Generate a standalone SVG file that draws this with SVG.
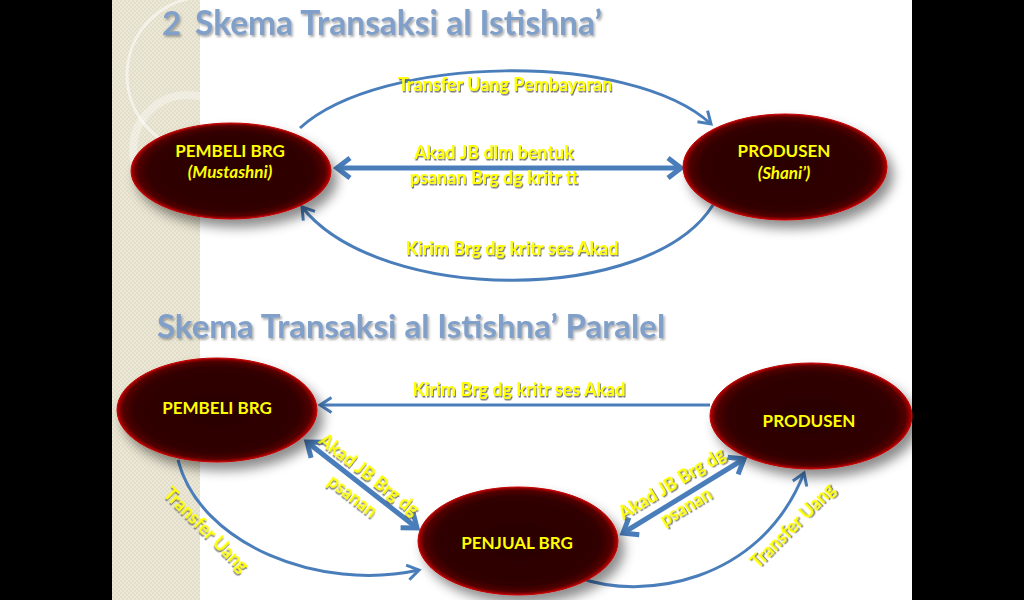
<svg xmlns="http://www.w3.org/2000/svg" width="1024" height="600" viewBox="0 0 1024 600">
<defs>
<style>
.title{font-family:Lato,"Open Sans","Liberation Sans",sans-serif;font-weight:bold;fill:#809fc9;filter:url(#tsh)}
.lbl{font-family:Lato,"Open Sans","Liberation Sans",sans-serif;font-weight:bold;font-size:18px;fill:#ffff00;filter:url(#ysh)}
.ntxt{font-family:Lato,"Open Sans","Liberation Sans",sans-serif;font-weight:bold;font-size:17px;fill:#ffff00;text-anchor:middle}
.node{fill:url(#nodeGrad);stroke:#c00000;stroke-width:1;filter:url(#nsh)}
.con{fill:none;stroke:#4a7ebb;stroke-width:3}
.thick{fill:none;stroke:#4a7ebb;stroke-width:5}
</style>
<radialGradient id="nodeGrad" cx="50%" cy="50%" r="50%">
<stop offset="0" stop-color="#2a0000"/>
<stop offset="0.82" stop-color="#300000"/>
<stop offset="0.94" stop-color="#520000"/>
<stop offset="1" stop-color="#b80000"/>
</radialGradient>
<filter id="nsh" x="-20%" y="-20%" width="150%" height="160%">
<feDropShadow dx="6" dy="8" stdDeviation="6" flood-color="#000" flood-opacity="0.45"/>
</filter>
<filter id="ysh" x="-10%" y="-30%" width="120%" height="170%">
<feDropShadow dx="1" dy="1.5" stdDeviation="0.6" flood-color="#555" flood-opacity="0.8"/>
</filter>
<filter id="tsh" x="-5%" y="-20%" width="110%" height="150%">
<feDropShadow dx="1.5" dy="2" stdDeviation="1" flood-color="#555" flood-opacity="0.5"/>
</filter>
<pattern id="chk" width="4" height="4" patternUnits="userSpaceOnUse">
<rect width="4" height="4" fill="#ece8d8"/>
<rect width="2" height="2" fill="#e3dec9"/>
<rect x="2" y="2" width="2" height="2" fill="#e3dec9"/>
</pattern>
<clipPath id="strip"><rect x="112" y="0" width="110" height="600"/></clipPath>
<marker id="ah" viewBox="0 0 14 18" refX="12.5" refY="9" markerWidth="14" markerHeight="18" markerUnits="userSpaceOnUse" orient="auto-start-reverse" overflow="visible">
<path d="M1,1.5 L12.5,9 L1,16.5" fill="none" stroke="#4a7ebb" stroke-width="3"/>
</marker>
<marker id="ahT" viewBox="0 0 18 24" refX="15" refY="12" markerWidth="18" markerHeight="24" markerUnits="userSpaceOnUse" orient="auto-start-reverse" overflow="visible">
<path d="M2,2 L15,12 L2,22" fill="none" stroke="#4a7ebb" stroke-width="5"/>
</marker>
</defs>

<rect x="0" y="0" width="1024" height="600" fill="#000"/>
<rect x="112" y="0" width="800" height="600" fill="#ffffff"/>
<rect x="112" y="0" width="88" height="600" fill="url(#chk)"/>
<g clip-path="url(#strip)" fill="none" stroke="#ffffff" stroke-opacity="0.5">
<circle cx="205" cy="75" r="78" stroke-width="3"/>
<circle cx="188" cy="150" r="55" stroke-width="8" stroke-opacity="0.35"/>
</g>

<text class="title" x="162" y="35" font-size="33">2</text>
<text class="title" x="195" y="35" font-size="33.5">Skema Transaksi al Istishna’</text>
<text class="title" x="157" y="338" font-size="33">Skema Transaksi al Istishna’ Paralel</text>

<g id="connectors">
<path class="con" d="M300,128 C380,55 630,50 711,124" marker-end="url(#ah)"/>
<path class="thick" d="M337,168 L681,168" marker-start="url(#ahT)" marker-end="url(#ahT)"/>
<path class="con" d="M713,205 C650,305 380,305 302,207" marker-end="url(#ah)"/>
<path class="con" d="M710,405 L320,405" stroke-width="2.5" marker-end="url(#ah)"/>
<path class="thick" d="M307,442 L417,528" marker-start="url(#ahT)" marker-end="url(#ahT)"/>
<path class="thick" d="M623,533 L744,459" marker-start="url(#ahT)" marker-end="url(#ahT)"/>
<path class="con" d="M178,460 C200,545 320,592 419,570" marker-end="url(#ah)"/>
<path class="con" d="M580,578 C640,600 760,585 804,473" marker-end="url(#ah)"/>
</g>

<g id="labels">
<text class="lbl" x="505" y="91" text-anchor="middle">Transfer Uang Pembayaran</text>
<text class="lbl" x="494" y="159" text-anchor="middle">Akad JB dlm bentuk</text>
<text class="lbl" x="494" y="184" text-anchor="middle">psanan Brg dg kritr tt</text>
<text class="lbl" x="512" y="255" text-anchor="middle">Kirim Brg dg kritr ses Akad</text>
<text class="lbl" x="519" y="396" text-anchor="middle">Kirim Brg dg kritr ses Akad</text>
<g transform="translate(369,475) rotate(38)">
<text class="lbl" x="0" y="6" text-anchor="middle">Akad JB Brg dg</text>
<text class="lbl" x="0" y="33" text-anchor="middle">psanan</text>
</g>
<g transform="translate(672,484) rotate(-31)">
<text class="lbl" x="0" y="6" text-anchor="middle">Akad JB Brg dg</text>
<text class="lbl" x="0" y="33" text-anchor="middle">psanan</text>
</g>
<text class="lbl" transform="translate(206,530) rotate(45)" x="0" y="6" text-anchor="middle">Transfer Uang</text>
<text class="lbl" transform="translate(793,526) rotate(-45)" x="0" y="6" text-anchor="middle">Transfer Uang</text>
</g>

<g id="pembeli1">
<ellipse class="node" cx="231" cy="171" rx="100" ry="48"/>
<text class="ntxt" x="230" y="157">PEMBELI BRG</text>
<text class="ntxt" x="230" y="178" font-style="italic">(Mustashni)</text>
</g>
<g id="produsen1">
<ellipse class="node" cx="785" cy="167" rx="102" ry="53"/>
<text class="ntxt" x="784" y="157">PRODUSEN</text>
<text class="ntxt" x="784" y="179" font-style="italic">(Shani’)</text>
</g>
<g id="pembeli2">
<ellipse class="node" cx="217" cy="410" rx="100" ry="52"/>
<text class="ntxt" x="217" y="414">PEMBELI BRG</text>
</g>
<g id="produsen2">
<ellipse class="node" cx="811" cy="416" rx="101" ry="53"/>
<text class="ntxt" x="809" y="427">PRODUSEN</text>
</g>
<g id="penjual">
<ellipse class="node" cx="518" cy="541" rx="100" ry="54"/>
<text class="ntxt" x="517" y="549">PENJUAL BRG</text>
</g>
</svg>
